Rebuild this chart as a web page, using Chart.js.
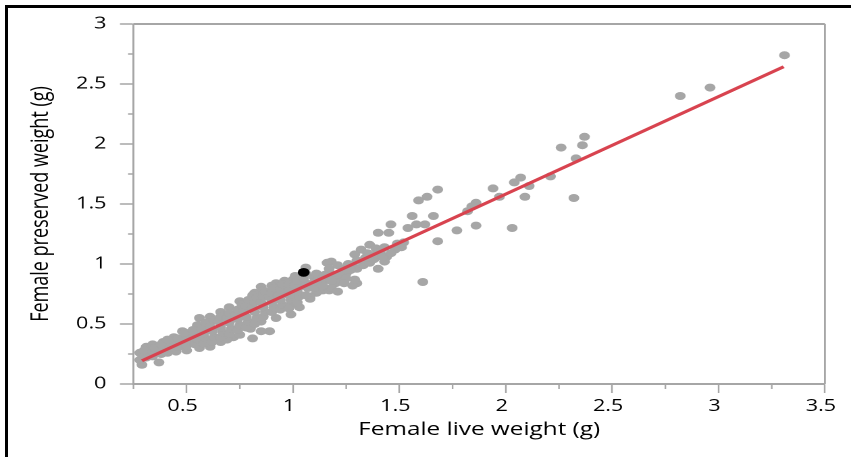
<!DOCTYPE html>
<html>
<head>
<meta charset="utf-8">
<script src="https://cdn.jsdelivr.net/npm/chart.js@4.4.1/dist/chart.umd.min.js"></script>
<style>
  html, body { margin: 0; padding: 0; background: #fff; }
  #wrap { position: absolute; left: 0; top: 0; width: 630px; height: 457px; transform: scaleX(1.3508); transform-origin: 0 0; }
  #frame { position: absolute; left: 5px; top: 5px; width: 860px; height: 470px; border-left: 3px solid #000; border-top: 3px solid #000; }
</style>
</head>
<body>
<div id="wrap"><canvas id="myChart" width="630" height="457"></canvas></div>
<div id="frame"></div>
<script>
// female live weight (g) vs preserved weight (g), one entry per female
const liveWeight = [
  3.31, 2.96, 2.82, 2.37, 2.36, 2.26, 2.33, 2.32, 2.21, 2.11,
  2.07, 2.04, 2.09, 2.03, 1.94, 1.97, 1.86, 1.84, 1.82, 1.86,
  1.77, 1.68, 1.63, 1.59, 1.66, 1.56, 1.68, 1.61, 1.62, 1.58,
  1.54, 1.46, 1.45, 1.40, 1.52, 1.49, 1.51, 1.48, 1.44, 1.43,
  1.40, 1.30, 1.28, 1.36, 1.39, 1.41, 1.32, 1.29, 1.28, 1.30,
  1.33, 1.36, 1.29, 1.18, 1.21, 1.24, 1.25, 1.19, 1.21, 1.16,
  1.13, 1.14, 1.17, 1.11, 1.07, 1.06, 1.00, 1.03, 0.97, 0.95,
  1.03, 1.08, 1.00, 1.03, 0.99, 1.20, 1.18, 1.21, 1.10, 1.11,
  1.15, 1.16, 0.29, 0.37, 0.56, 0.92, 0.85, 0.82, 0.81, 0.72,
  0.89, 0.80, 0.85, 0.99, 0.92, 0.85, 0.28, 0.31, 0.34, 0.39,
  0.44, 0.48, 0.55, 0.61, 0.66, 0.70, 0.75, 0.81, 0.86, 0.90,
  0.96, 1.01, 0.28, 0.34, 0.41, 0.45, 0.50, 0.56, 0.61, 0.66,
  0.69, 0.75, 1.08, 0.31, 0.30, 0.30, 0.34, 0.35, 0.38, 0.39,
  0.38, 0.42, 0.43, 0.41, 0.46, 0.47, 0.46, 0.50, 0.51, 0.50,
  0.49, 0.54, 0.55, 0.54, 0.53, 0.58, 0.59, 0.58, 0.57, 0.59,
  0.62, 0.63, 0.62, 0.61, 0.63, 0.66, 0.67, 0.66, 0.65, 0.66,
  0.70, 0.71, 0.70, 0.69, 0.70, 0.74, 0.75, 0.74, 0.73, 0.74,
  0.76, 0.78, 0.79, 0.78, 0.77, 0.78, 0.79, 0.82, 0.83, 0.82,
  0.81, 0.82, 0.83, 0.86, 0.87, 0.86, 0.85, 0.86, 0.87, 0.90,
  0.91, 0.90, 0.89, 0.90, 0.91, 0.94, 0.95, 0.94, 0.93, 0.94,
  0.95, 0.98, 0.99, 0.98, 0.98, 0.98, 1.02, 1.03, 1.02, 1.01,
  1.02, 1.06, 1.06, 1.05, 1.10, 1.10, 1.14, 1.14, 1.18, 1.17,
  1.22, 1.27, 1.26, 1.30, 1.34, 1.35, 1.38, 1.39, 1.42, 1.43,
  1.46, 1.25, 1.24, 1.06
];
const preservedWeight = [
  2.74, 2.47, 2.40, 2.06, 1.99, 1.97, 1.88, 1.55, 1.73, 1.65,
  1.72, 1.68, 1.56, 1.30, 1.63, 1.56, 1.51, 1.48, 1.44, 1.32,
  1.28, 1.62, 1.56, 1.53, 1.40, 1.40, 1.19, 0.85, 1.33, 1.33,
  1.30, 1.33, 1.26, 1.26, 1.18, 1.17, 1.14, 1.12, 1.06, 1.02,
  0.96, 0.84, 0.82, 1.16, 1.13, 1.10, 1.12, 1.08, 0.99, 0.96,
  0.99, 1.01, 0.87, 1.02, 0.99, 0.96, 0.92, 0.91, 0.87, 0.87,
  0.85, 0.78, 0.78, 0.76, 0.80, 0.97, 0.87, 0.89, 0.81, 0.77,
  0.81, 0.71, 0.74, 0.64, 0.66, 0.84, 0.80, 0.77, 0.89, 0.92,
  0.91, 1.01, 0.16, 0.18, 0.55, 0.84, 0.81, 0.76, 0.38, 0.39,
  0.44, 0.46, 0.44, 0.58, 0.55, 0.52, 0.26, 0.31, 0.33, 0.35,
  0.39, 0.44, 0.49, 0.56, 0.60, 0.64, 0.69, 0.74, 0.78, 0.82,
  0.86, 0.90, 0.20, 0.23, 0.26, 0.27, 0.28, 0.30, 0.31, 0.35,
  0.37, 0.41, 0.73, 0.22, 0.25, 0.28, 0.27, 0.30, 0.25, 0.29,
  0.33, 0.30, 0.34, 0.37, 0.31, 0.35, 0.38, 0.32, 0.36, 0.40,
  0.43, 0.33, 0.37, 0.41, 0.45, 0.34, 0.38, 0.42, 0.46, 0.51,
  0.35, 0.39, 0.44, 0.48, 0.53, 0.39, 0.43, 0.47, 0.52, 0.56,
  0.42, 0.46, 0.51, 0.55, 0.59, 0.45, 0.49, 0.54, 0.58, 0.62,
  0.66, 0.47, 0.52, 0.56, 0.61, 0.65, 0.70, 0.50, 0.55, 0.60,
  0.64, 0.68, 0.72, 0.56, 0.60, 0.64, 0.68, 0.73, 0.77, 0.60,
  0.64, 0.68, 0.72, 0.76, 0.80, 0.62, 0.66, 0.70, 0.74, 0.79,
  0.83, 0.63, 0.70, 0.74, 0.78, 0.83, 0.68, 0.73, 0.77, 0.82,
  0.86, 0.74, 0.84, 0.88, 0.80, 0.85, 0.82, 0.88, 0.86, 0.96,
  0.91, 0.95, 1.00, 1.03, 1.05, 1.09, 1.04, 1.08, 1.06, 1.14,
  1.09, 0.88, 0.84, 0.92
];

// the one highlighted female
const markedLive = [1.05];
const markedPreserved = [0.93];

// ends of the fitted line
const fitLive = [0.29, 3.306];
const fitPreserved = [0.194, 2.644];

// labelled ticks; the others (every 0.25) are short unlabelled ones
const xMajorTicks = [0.5, 1, 1.5, 2, 2.5, 3, 3.5];
const yMajorTicks = [0, 0.5, 1, 1.5, 2, 2.5, 3];

const axisGrey = "#a6a6a6";
const fontFamily = "'Open Sans', 'Noto Sans', sans-serif";

const toPoints = (xs, ys) => xs.map((x, i) => ({ x: x, y: ys[i] }));
const isMajor = (list, v) => list.some((t) => Math.abs(t - v) < 1e-6);

// top/right edge of the plot and the short minor ticks
const plotFrame = {
  id: "plotFrame",
  afterDraw(chart) {
    const { ctx, chartArea, scales } = chart;
    ctx.save();
    ctx.strokeStyle = axisGrey;
    ctx.lineWidth = 2;
    ctx.beginPath();
    ctx.moveTo(chartArea.left, chartArea.top);
    ctx.lineTo(chartArea.right, chartArea.top);
    ctx.stroke();
    ctx.lineWidth = 1.4;
    ctx.beginPath();
    ctx.moveTo(chartArea.right, chartArea.top);
    ctx.lineTo(chartArea.right, chartArea.bottom);
    ctx.stroke();

    ctx.lineWidth = 1.2;
    scales.x.ticks.forEach((t) => {
      if (isMajor(xMajorTicks, t.value)) return;
      const px = scales.x.getPixelForValue(t.value);
      ctx.beginPath();
      ctx.moveTo(px, chartArea.bottom);
      ctx.lineTo(px, chartArea.bottom + 5);
      ctx.stroke();
    });
    ctx.lineWidth = 1.5;
    scales.y.ticks.forEach((t) => {
      if (isMajor(yMajorTicks, t.value)) return;
      const py = scales.y.getPixelForValue(t.value);
      ctx.beginPath();
      ctx.moveTo(chartArea.left, py);
      ctx.lineTo(chartArea.left - 4, py);
      ctx.stroke();
    });
    ctx.restore();
  },
};

const ctx = document.getElementById("myChart");

const myChart = new Chart(ctx, {
  type: "scatter",
  data: {
    datasets: [
      {
        label: "Highlighted",
        data: toPoints(markedLive, markedPreserved),
        backgroundColor: "#000000",
        borderWidth: 0,
        pointRadius: 4.4,
        order: 0,
      },
      {
        label: "Fit",
        type: "line",
        data: toPoints(fitLive, fitPreserved),
        borderColor: "#d8434f",
        borderWidth: 3,
        pointRadius: 0,
        showLine: true,
        fill: false,
        order: 1,
      },
      {
        label: "Females",
        data: toPoints(liveWeight, preservedWeight),
        backgroundColor: "#a6a6a6",
        borderWidth: 0,
        pointRadius: 4,
        order: 2,
      },
    ],
  },
  options: {
    responsive: false,
    devicePixelRatio: 2,
    animation: false,
    layout: {
      padding: { left: 15.6, right: 19.3, top: 24, bottom: 12.2 },
    },
    plugins: {
      legend: { display: false },
      tooltip: { enabled: false },
    },
    scales: {
      x: {
        type: "linear",
        min: 0.25,
        max: 3.5,
        afterFit: (scale) => {
          scale.height = 60.8;
        },
        border: { color: axisGrey, width: 2 },
        grid: {
          drawOnChartArea: false,
          tickLength: 9,
          tickWidth: 1.2,
          tickColor: (c) =>
            c.tick && isMajor(xMajorTicks, c.tick.value) ? axisGrey : "rgba(0,0,0,0)",
        },
        ticks: {
          stepSize: 0.25,
          autoSkip: false,
          maxRotation: 0,
          padding: 4,
          labelOffset: -3,
          color: "#000",
          font: { family: fontFamily, size: 16 },
          callback: (v) => (isMajor(xMajorTicks, v) ? String(v) : ""),
        },
        title: {
          display: true,
          text: "Female live weight (g)",
          color: "#000",
          font: { family: fontFamily, size: 18 },
          padding: { top: 4, bottom: 4 },
        },
      },
      y: {
        type: "linear",
        min: 0,
        max: 3,
        afterFit: (scale) => {
          scale.width = 83.2;
        },
        border: { color: axisGrey, width: 1.5 },
        grid: {
          drawOnChartArea: false,
          tickLength: 10,
          tickWidth: 1.5,
          tickColor: (c) =>
            c.tick && isMajor(yMajorTicks, c.tick.value) ? axisGrey : "rgba(0,0,0,0)",
        },
        ticks: {
          stepSize: 0.25,
          autoSkip: false,
          padding: 10,
          color: "#000",
          font: { family: fontFamily, size: 16 },
          callback: (v) => (isMajor(yMajorTicks, v) ? String(v) : ""),
        },
        title: {
          display: true,
          text: "Female preserved weight (g)",
          color: "#000",
          font: { family: fontFamily, size: 18 },
          padding: { top: 4, bottom: 4 },
        },
      },
    },
  },
  plugins: [plotFrame],
});
</script>
</body>
</html>
